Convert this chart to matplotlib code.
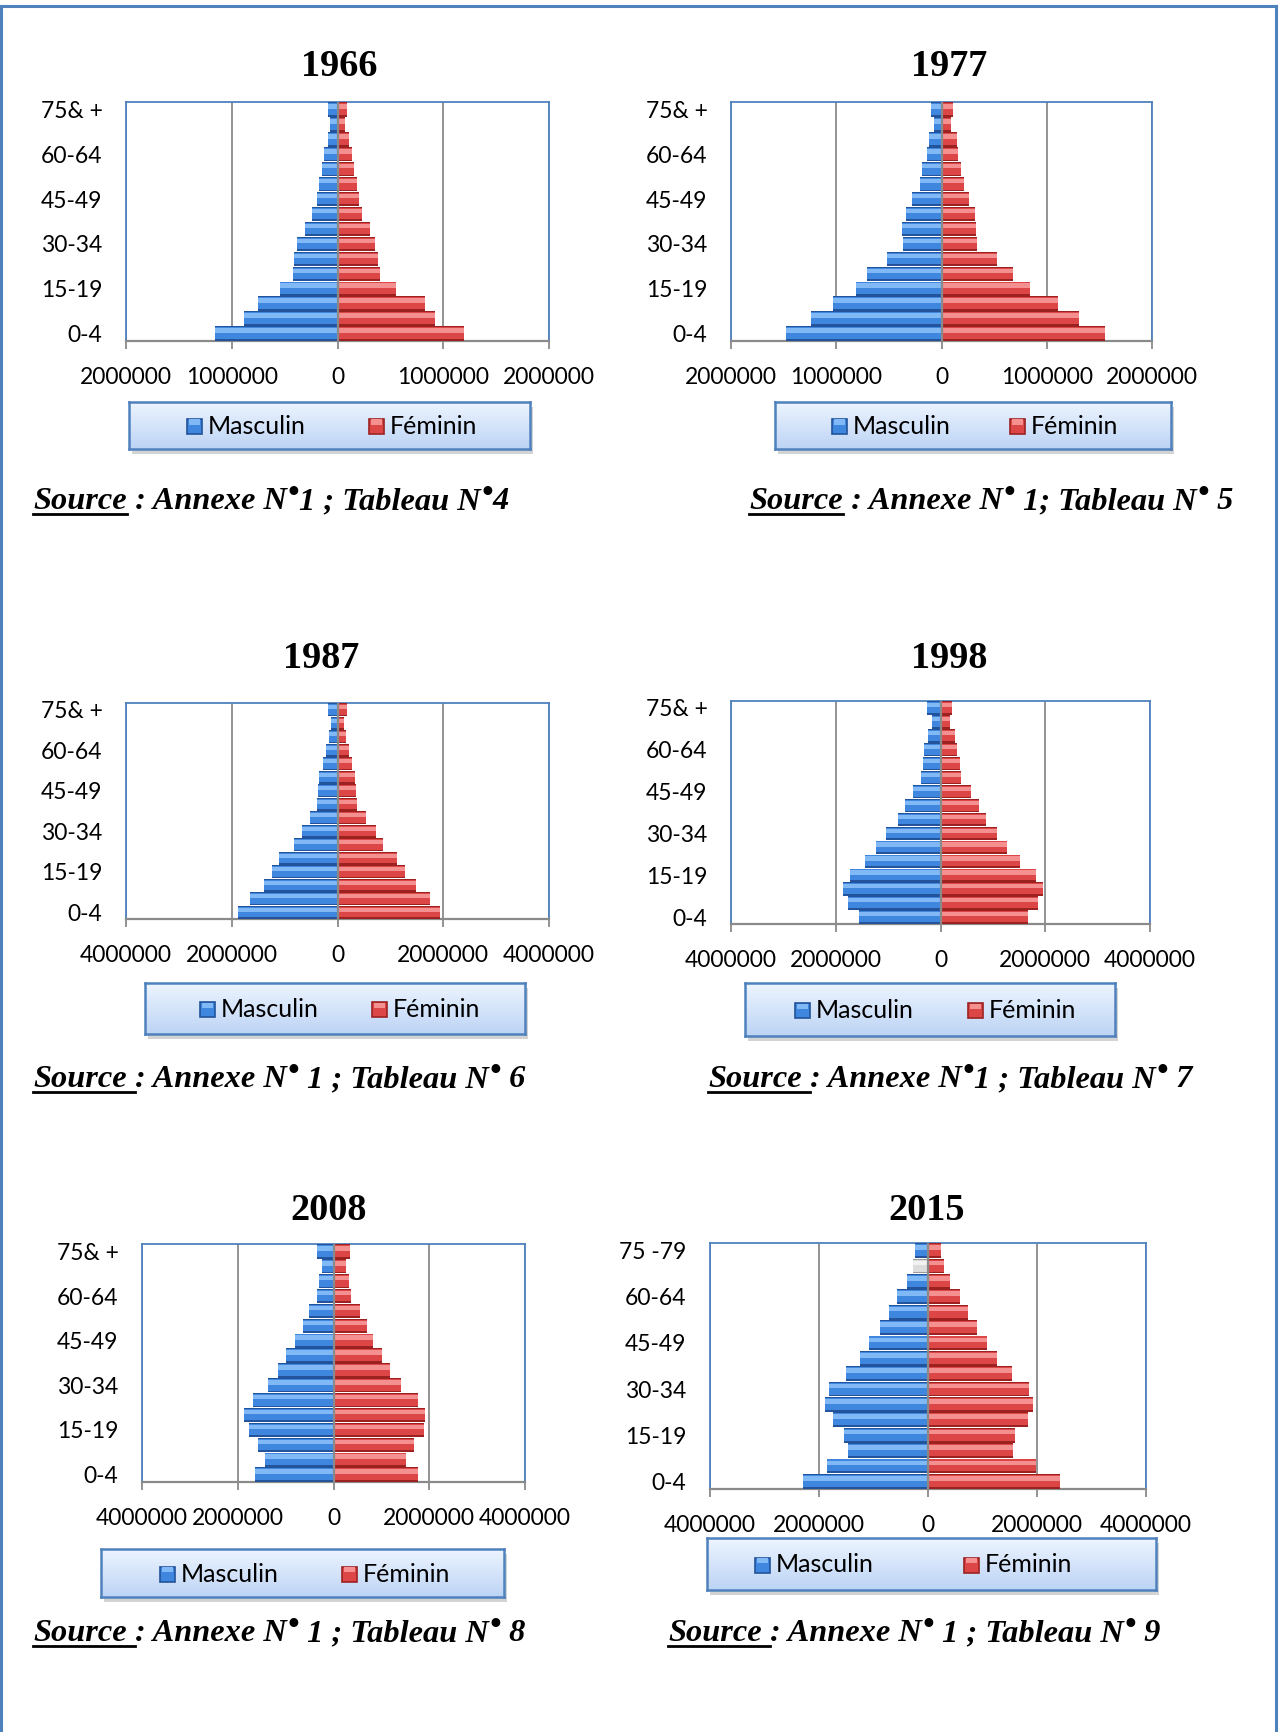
import matplotlib
matplotlib.use("Agg")
import matplotlib.pyplot as plt
import numpy as np
from matplotlib.patches import Rectangle
from matplotlib.lines import Line2D
from matplotlib.ticker import FixedLocator, FuncFormatter

W, H = 1283, 1732
DPI = 100

# ---------------------------------------------------------------- data
age_groups = ["0-4", "5-9", "10-14", "15-19", "20-24", "25-29", "30-34", "35-39",
              "40-44", "45-49", "50-54", "55-59", "60-64", "65-69", "70-74", "75& +"]
age_groups_2015 = age_groups[:-1] + ["75 -79"]

years = ["1966", "1977", "1987", "1998", "2008", "2015"]

# population by age group, youngest first
male_1966 = [1154000, 887000, 752000, 545000, 424000, 413000, 381000, 306000,
             239000, 192000, 171000, 142000, 132000, 93000, 75000, 93000]
female_1966 = [1193000, 919000, 823000, 556000, 406000, 385000, 353000, 303000,
               232000, 207000, 185000, 157000, 135000, 107000, 68000, 89000]

male_1977 = [1477000, 1241000, 1031000, 813000, 708000, 519000, 367000, 377000,
             338000, 279000, 207000, 185000, 138000, 116000, 73000, 102000]
female_1977 = [1554000, 1307000, 1107000, 838000, 679000, 526000, 338000, 327000,
               319000, 258000, 211000, 185000, 156000, 145000, 94000, 105000]

male_1987 = [1873000, 1652000, 1389000, 1239000, 1104000, 819000, 670000, 520000,
             385000, 363000, 342000, 271000, 214000, 157000, 121000, 171000]
female_1987 = [1944000, 1752000, 1481000, 1275000, 1125000, 862000, 727000, 541000,
               370000, 349000, 328000, 271000, 214000, 157000, 121000, 178000]

male_1998 = [1562000, 1774000, 1869000, 1730000, 1445000, 1241000, 1036000, 810000,
             679000, 526000, 372000, 343000, 314000, 234000, 168000, 263000]
female_1998 = [1679000, 1869000, 1964000, 1832000, 1511000, 1277000, 1088000, 876000,
               730000, 591000, 387000, 365000, 321000, 285000, 182000, 226000]

male_2008 = [1641000, 1421000, 1578000, 1766000, 1876000, 1680000, 1358000, 1162000,
             997000, 808000, 644000, 518000, 353000, 298000, 243000, 353000]
female_2008 = [1774000, 1507000, 1688000, 1884000, 1915000, 1758000, 1405000, 1185000,
               1020000, 832000, 706000, 557000, 369000, 330000, 267000, 353000]

male_2015 = [2297000, 1855000, 1471000, 1543000, 1739000, 1891000, 1819000, 1507000,
             1246000, 1080000, 877000, 710000, 565000, 384000, 280000, 232000]
female_2015 = [2420000, 1986000, 1551000, 1594000, 1833000, 1920000, 1855000, 1543000,
               1261000, 1080000, 899000, 739000, 587000, 406000, 290000, 232000]

males = [male_1966, male_1977, male_1987, male_1998, male_2008, male_2015]
females = [female_1966, female_1977, female_1987, female_1998, female_2008, female_2015]
labels_per_year = [age_groups] * 5 + [age_groups_2015]

x_limits = [2000000, 2000000, 4000000, 4000000, 4000000, 4000000]
x_steps = [1000000, 1000000, 2000000, 2000000, 2000000, 2000000]

legend_labels = ["Masculin", "Féminin"]

source_texts = [
    " : Annexe N•1 ; Tableau N•4",
    " : Annexe N• 1; Tableau N• 5",
    ": Annexe N• 1 ; Tableau N• 6",
    ": Annexe N•1 ; Tableau N• 7",
    ": Annexe N• 1 ; Tableau N• 8",
    ": Annexe N• 1 ; Tableau N• 9",
]
# underline runs over the blank after "Source" in the later panels
underline_space = [False, False, True, True, True, True]

# ---------------------------------------------------------------- layout (pixels)
axes_px = [(126, 102, 549, 341), (731, 102, 1152, 341),
           (126, 703, 549, 919), (731, 701, 1150, 924),
           (142, 1244, 525, 1482), (710, 1243, 1146, 1489)]
title_px = [(339, 66), (949, 66), (321, 659), (949, 659), (329, 1211), (927, 1211)]
legend_px = [(129, 402, 530, 449), (775, 402, 1171, 449),
             (145, 983, 525, 1034), (745, 983, 1115, 1036),
             (101, 1549, 504, 1597), (707, 1538, 1156, 1590)]
legend_marker_x = [(187, 369), (832, 1010), (200, 372), (795, 968), (160, 342), (755, 964)]
source_px = [(33, 509), (749, 509), (33, 1087), (708, 1087), (33, 1641), (668, 1641)]

BLUE = ("#23539a", "#3f86de", "#80b9f5")
RED = ("#9c2222", "#dc4646", "#f59090")
GREY_BAR = ("#9a9a9a", "#dcdcdc", "#f2f2f2")
BORDER = "#4f81bd"
GRID = "#8a8a8a"

TICK_FONT = ["Lato", "DejaVu Sans"]
SERIF = ["Liberation Serif", "DejaVu Serif"]
TICK_SIZE = 16.5
LEGEND_SIZE = 18
SOURCE_SIZE = 23.3


def fx(x):
    return x / W


def fy(y):
    return 1 - y / H


def rect(x0, y0, x1, y1):
    return [fx(x0), fy(y1), (x1 - x0) / W, (y1 - y0) / H]


fig = plt.figure(figsize=(W / DPI, H / DPI), dpi=DPI)
fig.patch.set_facecolor("white")

# page frame
fig.add_artist(Line2D([fx(0), fx(1276)], [fy(6), fy(6)], color=BORDER, lw=2.2))
fig.add_artist(Line2D([fx(1), fx(1)], [fy(6), fy(H)], color=BORDER, lw=2.2))
fig.add_artist(Line2D([fx(1276), fx(1276)], [fy(6), fy(H)], color=BORDER, lw=2.2))


def draw_bars(ax, ypos, values, colors, sign):
    """Bevelled horizontal bars: dark rim, mid body and a light upper band."""
    v = sign * np.asarray(values, dtype=float)
    dark, mid, light = colors
    ax.barh(ypos, v, height=0.96, color=dark, zorder=3, linewidth=0)
    ax.barh(ypos + 0.03, v, height=0.78, color=mid, zorder=4, linewidth=0)
    ax.barh(ypos + 0.2, v, height=0.3, color=light, zorder=5, linewidth=0)


for i in range(6):
    ax = fig.add_axes(rect(*axes_px[i]))
    ypos = np.arange(len(males[i]))
    draw_bars(ax, ypos, males[i], BLUE, -1)
    draw_bars(ax, ypos, females[i], RED, 1)
    if i == 5:
        # grey placeholder cell on the 70-74 male row
        draw_bars(ax, ypos[14:15], males[i][14:15], GREY_BAR, -1)

    lim = x_limits[i]
    ax.set_xlim(-lim, lim)
    ax.set_ylim(-0.5, len(males[i]) - 0.5)
    ticks = np.arange(-lim, lim + 1, x_steps[i])
    ax.xaxis.set_major_locator(FixedLocator(ticks))
    ax.xaxis.set_major_formatter(FuncFormatter(lambda v, p: f"{abs(int(round(v)))}"))
    ax.grid(axis="x", color=GRID, lw=1.3, zorder=1)
    ax.set_axisbelow(True)
    ax.axvline(0, color=GRID, lw=1.6, zorder=6)

    shown = list(range(0, len(males[i]), 3))
    ax.set_yticks(shown)
    ax.set_yticklabels([labels_per_year[i][k] for k in shown])

    for s in ("top", "left", "right"):
        ax.spines[s].set_color(BORDER)
        ax.spines[s].set_linewidth(1.3)
    ax.spines["bottom"].set_color(GRID)
    ax.spines["bottom"].set_linewidth(1.6)

    ax.tick_params(axis="x", direction="out", length=6, width=1.3, color=GRID,
                   labelsize=TICK_SIZE, pad=12.5)
    ax.tick_params(axis="y", length=0, labelsize=TICK_SIZE, pad=17)
    for lab in ax.get_xticklabels() + ax.get_yticklabels():
        lab.set_family(TICK_FONT)

    # title
    tx, ty = title_px[i]
    fig.text(fx(tx), fy(ty), years[i], ha="center", va="center",
             fontsize=27.5, fontweight="bold", family=SERIF)

    # legend box with shadow and gradient fill
    lx0, ly0, lx1, ly1 = legend_px[i]
    fig.add_artist(Rectangle((fx(lx0 + 3), fy(ly1 + 5)), (lx1 - lx0) / W, (ly1 - ly0) / H,
                             transform=fig.transFigure, facecolor="#c8c8c8",
                             edgecolor="none", alpha=0.8, zorder=0.5))
    lax = fig.add_axes(rect(lx0, ly0, lx1, ly1), zorder=1)
    grad = np.linspace(0, 1, 64).reshape(-1, 1)
    top_c = np.array([0.93, 0.96, 1.0])
    bot_c = np.array([0.74, 0.83, 0.96])
    img = top_c[None, None, :] * (1 - grad[:, :, None]) + bot_c[None, None, :] * grad[:, :, None]
    lax.imshow(img, aspect="auto", extent=[0, 1, 0, 1], origin="upper")
    lax.set_xticks([])
    lax.set_yticks([])
    for s in lax.spines.values():
        s.set_color(BORDER)
        s.set_linewidth(1.8)

    cy = (ly0 + ly1) / 2
    for mx, colors, lab in zip(legend_marker_x[i], (BLUE, RED), legend_labels):
        sz = 15
        fig.add_artist(Rectangle((fx(mx), fy(cy + sz / 2 + 1)), sz / W, sz / H,
                                 transform=fig.transFigure, facecolor=colors[1],
                                 edgecolor=colors[0], lw=1.2, zorder=2))
        fig.add_artist(Rectangle((fx(mx + 2), fy(cy - 1)), (sz - 4) / W, 5 / H,
                                 transform=fig.transFigure, facecolor=colors[2],
                                 edgecolor="none", zorder=2.1))
        fig.text(fx(mx + 21), fy(cy + 1), lab, ha="left", va="center", fontsize=LEGEND_SIZE,
                 family=TICK_FONT, zorder=3)

fig.canvas.draw()
renderer = fig.canvas.get_renderer()

SRC_STYLE = dict(ha="left", va="baseline", fontsize=SOURCE_SIZE, fontweight="bold",
                 fontstyle="italic", family=SERIF)


def put_text(x, y, s, raise_px=0):
    t = fig.text(fx(x), fy(y - raise_px), s, **SRC_STYLE)
    return t.get_window_extent(renderer).width


# source notes: underlined "Source", then the reference with raised bullets
for i in range(6):
    sx, sy = source_px[i]
    w = put_text(sx, sy, "Source")
    space = SOURCE_SIZE * DPI / 72 * 0.25
    ul = w + (space if underline_space[i] else 0)
    fig.add_artist(Line2D([fx(sx), fx(sx + ul)], [fy(sy + 5), fy(sy + 5)],
                          color="black", lw=2.0))
    cur = sx + ul
    parts = source_texts[i].split("•")
    for k, part in enumerate(parts):
        if part:
            cur += put_text(cur, sy, part)
        if k < len(parts) - 1:
            cur += put_text(cur + 1, sy, "•", raise_px=8) + 1

fig.savefig("out.png", dpi=DPI)
